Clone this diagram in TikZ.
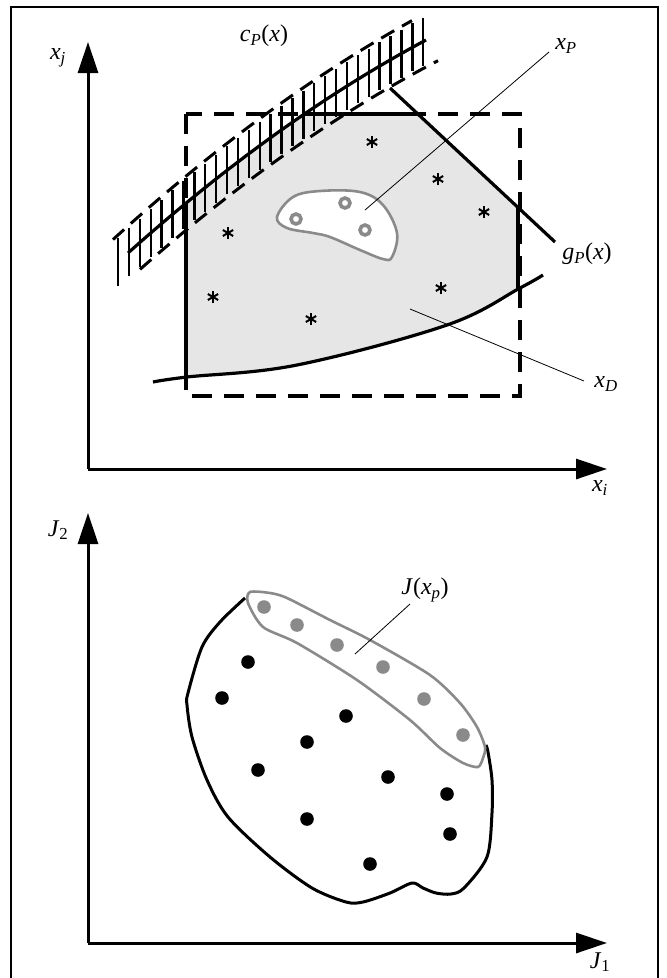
\documentclass[tikz,border=0pt]{standalone}
\usepackage{fontspec}
\setmainfont{Liberation Serif}
\usetikzlibrary{arrows.meta}
\definecolor{regiongray}{HTML}{E6E6E6}
\definecolor{linegray}{HTML}{8A8A8A}
\newcommand\sbs[1]{\textsubscript{\textit{#1}}}
\newcommand\astk[1]{\foreach \a in {90,30,150}{\draw[line width=2pt] (#1) ++(\a:6) -- ++(\a+180:12);}}
\begin{document}
\begin{tikzpicture}[x=1pt,y=-1pt,
  declare function={yc(\t)=377.37-1.0488*\t+6.03*(\t/100)*(\t/100);},
  axisline/.style={line width=3pt,-{Triangle[length=31pt,width=20pt]}},
  boldline/.style={line width=3.2pt},
  dashedbox/.style={line width=3.2pt,dash pattern=on 20pt off 12pt},
  hatchdash/.style={line width=3pt,dash pattern=on 15pt off 9pt},
  rungline/.style={line width=2.4pt},
  leader/.style={line width=0.8pt},
  lbl/.style={font=\fontsize{24}{28}\selectfont,inner sep=0pt},
  ring/.style={draw=linegray,line width=3.6pt,fill=white},
  gdot/.style={fill=linegray},
  bdot/.style={fill=black}]
\useasboundingbox (0,0) rectangle (667,978);
% frame
\draw[line width=2.4pt] (11,7) rectangle (658,990);

% ---------------- top panel ----------------
% gray feasible region
\begin{scope}
  \clip (186,100) rectangle (518,400);
  \fill[regiongray] plot[domain=150:304,samples=30] (\x,{yc(\x)}) -- (418,114) -- (540,228) -- (543,275)
     -- plot[smooth,tension=0.6] coordinates {(543,275) (520,288) (447,325) (297,365) (187,377) (153,382)} -- cycle;
\end{scope}
% region edges
\draw[boldline] (186,{yc(186)}) -- (186,377);
\draw[boldline] (304,114) -- (418,114);
\draw[boldline] (518,207) -- (518,288);
% g_P line
\coordinate (g1) at (390,88);
\coordinate (g2) at (555,242);
\draw[boldline] (g1) -- (g2);
% bottom curve
\draw[boldline] plot[smooth,tension=0.6] coordinates {(153,382) (187,377) (297,365) (447,325) (520,288) (543,275)};
% dashed rectangle
\draw[dashedbox] (186,114) rectangle (520,396);

% blob of Pareto points
\draw[draw=linegray,line width=2.6pt,fill=white] plot[smooth cycle,tension=0.6] coordinates {
  (277,217) (293,197) (320,191) (360,192) (383,205) (397,233) (392,257) (383,259)
  (360,250) (330,237) (313,233) (287,228)};
\draw[ring] (296,219) circle (5);
\draw[ring] (345,203) circle (5);
\draw[ring] (365,230) circle (5);

% stars
\coordinate (s1) at (372,142);
\coordinate (s2) at (438,179);
\coordinate (s3) at (484,212);
\coordinate (s4) at (228,233);
\coordinate (s5) at (213,297);
\coordinate (s6) at (311,319);
\coordinate (s7) at (441,288);
\astk{s1}\astk{s2}\astk{s3}\astk{s4}\astk{s5}\astk{s6}\astk{s7}

% constraint curve with hatching
\draw[boldline] plot[domain=128:426,samples=50] (\x,{yc(\x)});
\draw[hatchdash] plot[domain=113:412,samples=50] (\x,{yc(\x)-27});
\draw[hatchdash] plot[domain=140:438,samples=50] (\x,{yc(\x)+27});
\foreach \k in {0,...,28}{
  \pgfmathsetmacro\xx{118+10.9*\k}
  \draw[rungline] (\xx,{yc(\xx)-24}) -- (\xx,{yc(\xx)+24});
}

% axes
\coordinate (o1) at (88,469);
\coordinate (xj) at (88,42);
\coordinate (xi) at (607,469);
\draw[axisline] (o1) -- (xj);
\draw[axisline] (o1) -- (xi);

% labels
\node[lbl] (lxj) at (58,58) {\textit{x}\sbs{j}};
\node[lbl] (lcp) at (264,36) {\textit{c}\sbs{P}(\textit{x})};
\node[lbl] (lxp) at (566,46) {\textit{x}\sbs{P}};
\node[lbl] (lgp) at (587,254) {\textit{g}\sbs{P}(\textit{x})};
\node[lbl] (lxd) at (606,384) {\textit{x}\sbs{D}};
\node[lbl] (lxi) at (600,488) {\textit{x}\sbs{i}};

% leaders
\coordinate (p1) at (365,210);
\coordinate (p2) at (549,52);
\draw[leader] (p1) -- (p2);
\coordinate (d1) at (410,309);
\coordinate (d2) at (584,381);
\draw[leader] (d1) -- (d2);

% ---------------- bottom panel ----------------
\draw[line width=3pt] plot[smooth,tension=0.5] coordinates {
  (245,598) (220,622) (202,647) (188,693) (187,705) (192,737) (207,780) (228,817)
  (270,857) (312,888) (346,902) (363,902) (390,893) (412,883) (423,888) (436,893)
  (451,894) (464,888) (487,857) (492,813) (492,780) (488,752) (486,745)};
\draw[draw=linegray,line width=2.6pt] plot[smooth cycle,tension=0.45] coordinates {
  (250,592) (270,593) (287,598) (330,620) (370,640) (430,675) (460,703) (477,727)
  (485,747) (483,758) (478,767) (463,763) (440,748) (410,720) (357,680) (297,643)
  (263,627) (248,603)};
% gray dots
\foreach \p in {(264,607),(297,625),(337,645),(383,667),(424,699),(463,735)}
  \fill[gdot] \p circle (6.8);
% black dots
\foreach \p in {(248,662),(222,698),(346,716),(307,742),(258,770),(388,777),(447,794),(307,819),(450,834),(370,864)}
  \fill[bdot] \p circle (6.8);

% axes
\coordinate (o2) at (88,943);
\coordinate (j2) at (88,513);
\coordinate (j1) at (607,943);
\draw[axisline] (o2) -- (j2);
\draw[axisline] (o2) -- (j1);

\node[lbl] (lj2) at (58,530) {\textit{J}\textsubscript{2}};
\node[lbl] (lj1) at (600,962) {\textit{J}\textsubscript{1}};
\node[lbl] (ljx) at (425,590) {\textit{J}(\textit{x}\sbs{p})};
\coordinate (q1) at (355,654);
\coordinate (q2) at (410,604);
\draw[leader] (q1) -- (q2);
\end{tikzpicture}
\end{document}
